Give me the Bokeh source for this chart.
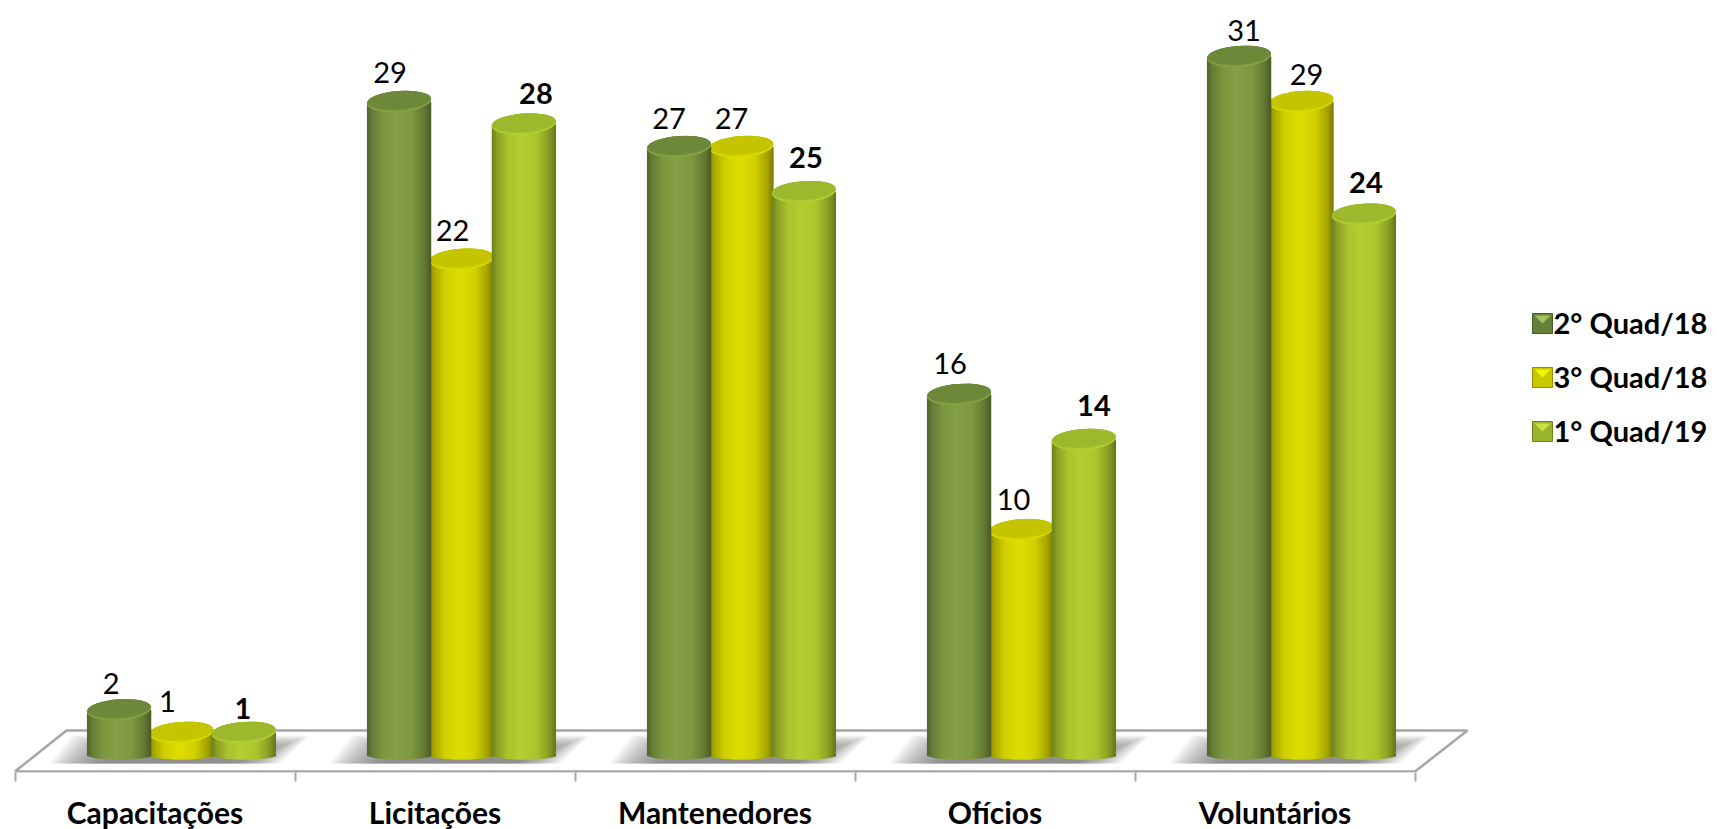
import numpy as np
from bokeh.plotting import figure
from bokeh.models import Range1d, FixedTicker, ColumnDataSource
from bokeh.core.properties import value
from bokeh.embed import file_html
from bokeh.resources import INLINE

categories = ["Capacitações", "Licitações", "Mantenedores", "Ofícios", "Voluntários"]
series_names = ["2° Quad/18", "3° Quad/18", "1° Quad/19"]
q2_18 = [2, 29, 27, 16, 31]
q3_18 = [1, 22, 27, 10, 29]
q1_19 = [1, 28, 25, 14, 24]

# ---- style / layout ----
FONT = "Lato"
CENTER = ["#84a044", "#dede00", "#b4d030"]
CAP = ["#6d8838", "#c4c400", "#9cb82c"]
RIM = ["#88a548", "#dcdc00", "#b4d034"]
SW_BASE = ["#66803a", "#c8c800", "#9ab42c"]
SW_TOP = ["#a4c060", "#f4f400", "#cce040"]
LABEL_DX = [[-8, -9, -10, -9, 5], [-14, -9, -10, -8, 5], [-1, 12, 2, 10, 2]]
LABEL_DY = [[-26, -29, -28, -31, -26], [-31, -29, -28, -30, -27], [-24, -31, -34, -34, -32]]
W, FRAME_H = 1717, 772
CAT_PX = 280.0          # px per category
LEFT_PX = 14.5          # first tick, page px
BASE_PX = 754.5         # value 0, page px
UNIT_PX = 22.53         # px per value
FLOOR_PX = 772.0


def X(px):
    return (px - LEFT_PX) / CAT_PX - 0.5


def Y(py):
    return (BASE_PX - py) / UNIT_PX


p = figure(frame_width=W, frame_height=FRAME_H, output_backend="svg", toolbar_location=None,
           x_range=Range1d(X(0), X(W)), y_range=Range1d(Y(FLOOR_PX), Y(0)),
           min_border=0, min_border_left=0, min_border_right=0, min_border_top=0, min_border_bottom=0,
           outline_line_color=None, background_fill_color="white", border_fill_color="white")
p.grid.visible = False
p.yaxis.visible = False

ax = p.xaxis[0]
ax.ticker = FixedTicker(ticks=list(range(len(categories))),
                        minor_ticks=[i - 0.5 for i in range(len(categories) + 1)])
ax.major_label_overrides = {i: c for i, c in enumerate(categories)}
ax.axis_line_color = None
ax.major_tick_line_color = None
ax.major_tick_out = 0
ax.major_tick_in = 0
ax.minor_tick_line_color = "#a6a6a6"
ax.minor_tick_line_width = 2
ax.minor_tick_out = 9
ax.minor_tick_in = 0
ax.major_label_standoff = 12
ax.major_label_text_font = FONT
ax.major_label_text_font_style = "bold"
ax.major_label_text_font_size = "30px"
ax.major_label_text_color = "black"

# floor
p.patch([X(14.5), X(66), X(1467), X(1414.5)], [Y(771), Y(730), Y(730), Y(771)],
        fill_color="white", line_color="#a6a6a6", line_width=2.5)

# floor shadows
for i in range(len(categories)):
    sh = CAT_PX * i
    for k in range(16):
        ins = k * 3.2
        top = 735 + k * 1.2
        xs = [50 + sh + ins, 72 + sh + ins, 309 + sh - ins, 279 + sh - ins]
        ys = [763, top, top, 763]
        p.patch([X(v) for v in xs], [Y(v) for v in ys], fill_color="#707070",
                fill_alpha=0.085, line_color=None)

# cylinders
prof_t = [0, 0.07, 0.25, 0.45, 0.7, 0.9, 1]
prof_v = [0.6, 0.76, 0.94, 1.0, 0.95, 0.74, 0.55]


def shade(hexcol, f):
    r, g, b = [int(hexcol[j:j + 2], 16) for j in (1, 3, 5)]
    return "#%02x%02x%02x" % (int(r * f), int(g * f), int(b * f))


BAR_W = 64.3 / CAT_PX
STEP = 62.4 / CAT_PX
SHIFT = 26.5 / CAT_PX
N = 30
all_series = [q2_18, q3_18, q1_19]
for s in (1, 0, 2):
    vals = all_series[s]
    for i, v in enumerate(vals):
        cx = i + SHIFT + (s - 1) * STEP
        ts = np.linspace(0, 1, N + 1)
        l = cx - BAR_W / 2 + ts[:-1] * BAR_W
        r = np.minimum(cx - BAR_W / 2 + ts[1:] * BAR_W + 1.5 / CAT_PX, cx + BAR_W / 2)
        mid = (ts[:-1] + ts[1:]) / 2
        bottom = -0.2 * np.sqrt(1 - (2 * mid - 1) ** 2)
        cols = [shade(CENTER[s], f) for f in np.interp(mid, prof_t, prof_v)]
        p.quad(left=l, right=r, bottom=bottom, top=[v] * N, fill_color=cols, line_color=None)
        p.ellipse(x=[cx], y=[v], width=BAR_W, height=0.92, angle=0.07,
                  fill_color=RIM[s], line_color=None)
        for k, f in enumerate((0.35, 0.7, 1.0)):
            c = [int(RIM[s][j:j + 2], 16) * (1 - f) + int(CAP[s][j:j + 2], 16) * f for j in (1, 3, 5)]
            p.ellipse(x=[cx], y=[v + 0.03 + k * 0.02], width=BAR_W * (0.995 - k * 0.005),
                      height=0.88 - k * 0.04, angle=0.07,
                      fill_color="#%02x%02x%02x" % tuple(int(q) for q in c), line_color=None)

# data labels
for s in range(3):
    src = ColumnDataSource(dict(
        x=[i + SHIFT + (s - 1) * STEP for i in range(len(categories))],
        y=all_series[s],
        t=[str(v) for v in all_series[s]],
        dx=LABEL_DX[s], dy=LABEL_DY[s]))
    p.text(x="x", y="y", text="t", source=src, x_offset="dx", y_offset="dy",
           text_align="center", text_baseline="middle", text_font=value(FONT),
           text_font_size="29px", text_font_style="bold" if s == 2 else "normal", text_color="black")

# legend
for s, name in enumerate(series_names):
    t = 313 + 54 * s
    b = t + 20
    l, r = 1532, 1552
    p.quad(left=[X(l)], right=[X(r)], top=[Y(t)], bottom=[Y(b)], fill_color=SW_BASE[s],
           line_color=shade(SW_BASE[s], 0.72), line_width=1)
    p.patch([X(l + 2), X(r - 2), X((l + r) / 2)], [Y(t + 2), Y(t + 2), Y(t + 10)],
            fill_color=SW_TOP[s], line_color=None)
    p.text(x=[X(1553)], y=[Y(t + 9)], text=[name], text_align="left", text_baseline="middle",
           text_font=value(FONT), text_font_size="29px", text_font_style="bold", text_color="black")

open("out.html", "w").write(file_html(p, INLINE))
